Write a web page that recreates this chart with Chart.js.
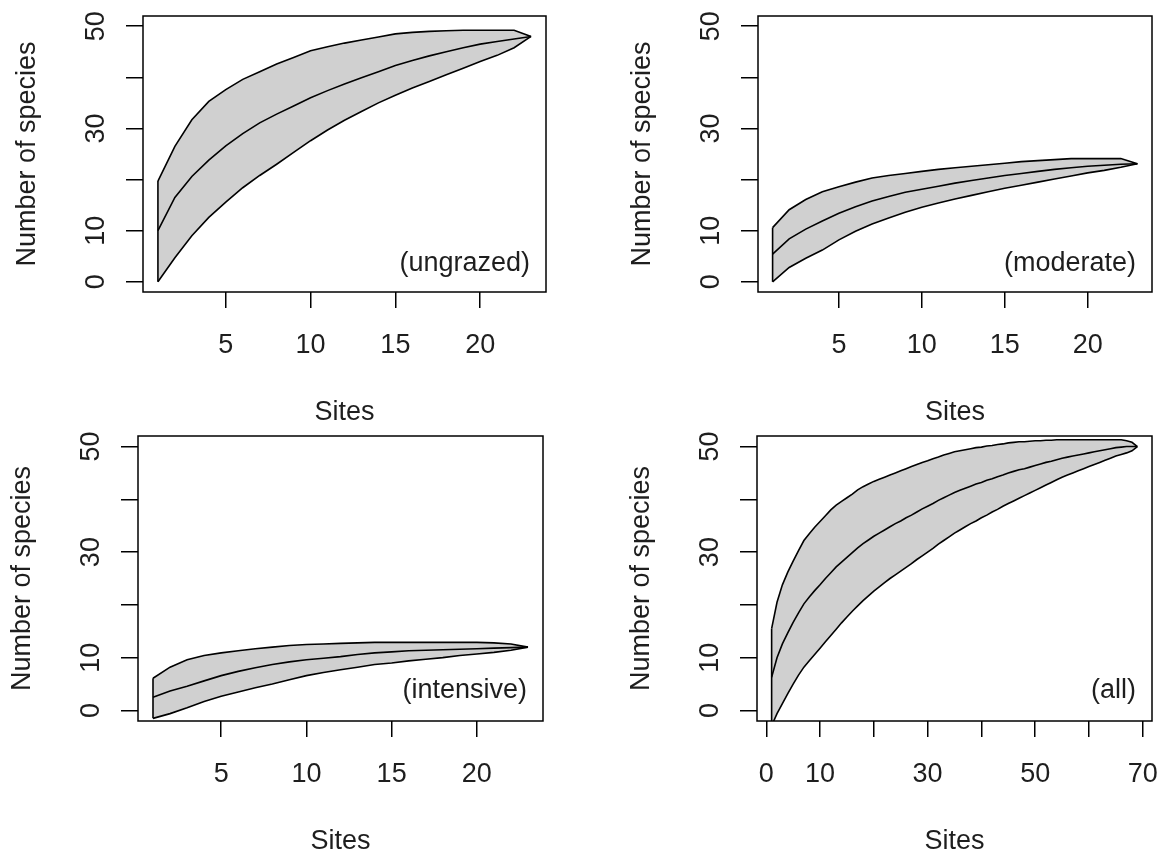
<!DOCTYPE html>
<html><head><meta charset="utf-8">
<script src="https://cdn.jsdelivr.net/npm/chart.js@4.4.1/dist/chart.umd.min.js"></script>
<style>
html,body{margin:0;padding:0;background:#fff;overflow:hidden;width:1173px;height:856px;position:relative;}
canvas{position:absolute;}
</style></head><body>
<canvas id="c1" width="571" height="432" style="left:0px;top:0px"></canvas>
<canvas id="c2" width="562" height="432" style="left:615px;top:0px"></canvas>
<canvas id="c3" width="573" height="441" style="left:-5px;top:420px"></canvas>
<canvas id="c4" width="563" height="441" style="left:614px;top:420px"></canvas>
<script>
// ---------- data ----------
const sites23 = [1,2,3,4,5,6,7,8,9,10,11,12,13,14,15,16,17,18,19,20,21,22,23];
const sites69 = [1,2,3,4,5,6,7,8,9,10,11,12,13,14,15,16,17,18,19,20,21,22,23,24,25,26,27,28,29,30,
  31,32,33,34,35,36,37,38,39,40,41,42,43,44,45,46,47,48,49,50,51,52,53,54,55,56,57,58,59,60,
  61,62,63,64,65,66,67,68,69];

const ungrazedUpper = [19.7,26.5,31.7,35.3,37.6,39.6,41.1,42.6,43.9,45.2,46.0,46.7,47.3,47.9,48.5,48.8,49.0,49.1,49.2,49.2,49.2,49.2,48.0];
const ungrazedMean  = [10.0,16.5,20.6,23.8,26.6,29.0,31.1,32.8,34.4,36.0,37.4,38.7,39.9,41.1,42.3,43.3,44.2,45.0,45.8,46.5,47.0,47.5,48.0];
const ungrazedLower = [0.0,4.7,9.0,12.6,15.6,18.4,20.8,23.0,25.3,27.6,29.7,31.6,33.3,35.0,36.5,37.9,39.2,40.5,41.8,43.1,44.3,45.8,48.0];

const moderateUpper = [10.6,14.1,16.1,17.6,18.6,19.5,20.3,20.8,21.2,21.6,22.0,22.3,22.6,22.9,23.2,23.5,23.7,23.9,24.1,24.1,24.1,24.1,23.1];
const moderateMean  = [5.4,8.4,10.3,11.9,13.4,14.7,15.8,16.7,17.5,18.1,18.7,19.3,19.8,20.3,20.8,21.2,21.6,22.0,22.3,22.6,22.8,23.0,23.1];
const moderateLower = [0.0,2.8,4.6,6.2,8.2,9.9,11.3,12.5,13.6,14.6,15.4,16.2,16.9,17.6,18.3,18.9,19.5,20.1,20.7,21.3,21.8,22.4,23.1];

const intensiveUpper = [6.1,8.2,9.6,10.4,10.9,11.3,11.7,12.0,12.3,12.5,12.6,12.7,12.8,12.9,12.9,12.9,12.9,12.9,12.9,12.9,12.8,12.6,12.0];
const intensiveMean  = [2.5,3.7,4.6,5.6,6.6,7.4,8.1,8.7,9.2,9.6,9.9,10.2,10.6,10.9,11.1,11.3,11.4,11.5,11.6,11.7,11.8,11.9,12.0];
const intensiveLower = [-1.5,-0.6,0.5,1.7,2.7,3.5,4.3,5.0,5.8,6.6,7.2,7.7,8.2,8.7,9.0,9.4,9.7,10.0,10.4,10.7,11.0,11.4,12.0];

const allUpper = [15.5,20.5,23.8,26.2,28.3,30.3,32.2,33.5,34.7,35.8,36.9,38.0,38.9,39.6,40.3,41.0,41.8,42.4,42.9,43.4,
  43.8,44.2,44.6,45.0,45.4,45.8,46.2,46.6,47.0,47.3,47.7,48.0,48.4,48.7,49.0,49.2,49.4,49.6,49.8,49.9,
  50.1,50.2,50.4,50.5,50.7,50.8,50.9,50.9,51.0,51.1,51.1,51.2,51.2,51.3,51.3,51.3,51.3,51.3,51.3,51.3,
  51.3,51.3,51.3,51.3,51.3,51.3,51.1,50.8,50.0];
const allMean = [6.3,10.0,12.6,14.7,16.7,18.5,20.2,21.5,22.7,23.8,25.0,26.1,27.2,28.1,29.0,29.9,30.8,31.6,32.3,33.0,
  33.6,34.2,34.8,35.4,35.9,36.5,37.0,37.6,38.2,38.7,39.2,39.8,40.3,40.8,41.3,41.7,42.1,42.5,42.9,43.2,
  43.6,43.9,44.3,44.6,45.0,45.3,45.6,45.8,46.1,46.4,46.7,47.0,47.2,47.5,47.8,48.0,48.2,48.4,48.6,48.8,
  49.0,49.2,49.4,49.6,49.8,49.9,50.0,50.0,50.0];
const allLower = [-2.9,-0.6,1.3,3.2,5.0,6.7,8.2,9.4,10.6,11.8,13.0,14.2,15.4,16.6,17.7,18.8,19.8,20.8,21.7,22.6,
  23.4,24.2,25.0,25.7,26.4,27.1,27.8,28.6,29.3,30.0,30.7,31.5,32.2,32.9,33.6,34.2,34.8,35.4,35.9,36.5,
  37.0,37.6,38.1,38.7,39.2,39.7,40.2,40.7,41.2,41.7,42.2,42.7,43.2,43.7,44.2,44.6,45.0,45.4,45.8,46.2,
  46.6,47.0,47.4,47.8,48.2,48.5,48.8,49.2,50.0];

const yTicks = [0,10,20,30,40,50];
const yTickLabels = ['0','10','','30','','50'];
const xTicks23 = [5,10,15,20];
const xTickLabels23 = ['5','10','15','20'];
const xTicks69 = [0,10,20,30,40,50,60,70];
const xTickLabels69 = ['0','10','','30','','50','','70'];
const yLimits = [0,50];
const panelLabels = ['(ungrazed)','(moderate)','(intensive)','(all)'];
const xTitle = 'Sites';
const yTitle = 'Number of species';

// ---------- styling ----------
const FAMILY = '"Liberation Sans", Arial, Helvetica, sans-serif';
const TXT = '#1e1e1e';
const FILL = '#d0d0d0';

const rBox = {
  id: 'rBox',
  afterDatasetsDraw(chart, args, opts) {
    const {ctx, chartArea: a} = chart;
    ctx.save();
    ctx.strokeStyle = '#000';
    ctx.lineWidth = 1.5;
    ctx.strokeRect(a.left, a.top, a.right - a.left, a.bottom - a.top);
    ctx.font = '27px ' + FAMILY;
    ctx.fillStyle = TXT;
    ctx.textAlign = 'right';
    ctx.textBaseline = 'alphabetic';
    ctx.fillText(opts.text, a.right - 16, a.bottom - opts.dy);
    ctx.restore();
  }
};

function pts(xs, ys) { return xs.map((x, i) => ({x: x, y: ys[i]})); }

function extend(arr) {
  const lo = Math.min(...arr), hi = Math.max(...arr), d = (hi - lo) * 0.04;
  return [lo - d, hi + d];
}

function makePanel(id, sites, upper, mean, lower, xt, xl, label, dy) {
  const [xmin, xmax] = extend(sites);
  const [ymin, ymax] = extend(yLimits);
  const line = {borderColor: '#000', borderWidth: 1.6, pointRadius: 0, tension: 0, fill: false};
  new Chart(document.getElementById(id), {
    type: 'line',
    data: {
      datasets: [
        Object.assign({}, line, {data: pts(sites, upper), fill: '+1', backgroundColor: FILL}),
        Object.assign({}, line, {data: pts(sites, lower)}),
        Object.assign({}, line, {data: pts(sites, mean)}),
        Object.assign({}, line, {data: [{x: sites[0], y: lower[0]}, {x: sites[0], y: upper[0]}]})
      ]
    },
    options: {
      responsive: false,
      animation: false,
      devicePixelRatio: 1,
      events: [],
      layout: {padding: {left: 0, top: 16, right: 25, bottom: 0}},
      plugins: {
        legend: {display: false},
        tooltip: {enabled: false},
        filler: {drawTime: 'beforeDatasetsDraw'},
        rBox: {text: label, dy: dy}
      },
      scales: {
        x: {
          type: 'linear', position: 'bottom', min: xmin, max: xmax,
          afterBuildTicks: s => { s.ticks = xt.map(v => ({value: v})); },
          ticks: {autoSkip: false, minRotation: 0, maxRotation: 0, padding: 21, color: TXT,
                  font: {family: FAMILY, size: 27, lineHeight: 1.2},
                  callback: (v, i) => xl[i]},
          grid: {drawOnChartArea: false, drawTicks: true, tickLength: 16, tickColor: '#000', tickWidth: 1.5, color: '#000', lineWidth: 1.5},
          border: {display: false},
          title: {display: true, text: xTitle, color: TXT, font: {family: FAMILY, size: 27, lineHeight: 1.2}, padding: {top: 0, bottom: 3}},
          afterFit: s => { s.height = 140; s.paddingLeft = 0; s.paddingRight = 0; }
        },
        y: {
          type: 'linear', position: 'left', min: ymin, max: ymax,
          afterBuildTicks: s => { s.ticks = yTicks.map(v => ({value: v})); },
          ticks: {autoSkip: false, minRotation: 90, maxRotation: 90, crossAlign: 'center', padding: 14, color: TXT,
                  font: {family: FAMILY, size: 27, lineHeight: 1.2},
                  callback: (v, i) => yTickLabels[i]},
          grid: {drawOnChartArea: false, drawTicks: true, tickLength: 17, tickColor: '#000', tickWidth: 1.5, color: '#000', lineWidth: 1.5},
          border: {display: false},
          title: {display: true, text: yTitle, color: TXT, font: {family: FAMILY, size: 27, lineHeight: 1.2}, padding: {top: 11, bottom: 0}},
          afterFit: s => { s.width = 143; s.paddingTop = 0; s.paddingBottom = 0; }
        }
      }
    },
    plugins: [rBox]
  });
}

makePanel('c1', sites23, ungrazedUpper, ungrazedMean, ungrazedLower, xTicks23, xTickLabels23, panelLabels[0], 21);
makePanel('c2', sites23, moderateUpper, moderateMean, moderateLower, xTicks23, xTickLabels23, panelLabels[1], 21);
makePanel('c3', sites23, intensiveUpper, intensiveMean, intensiveLower, xTicks23, xTickLabels23, panelLabels[2], 23);
makePanel('c4', sites69, allUpper, allMean, allLower, xTicks69, xTickLabels69, panelLabels[3], 23);
</script>
</body></html>
